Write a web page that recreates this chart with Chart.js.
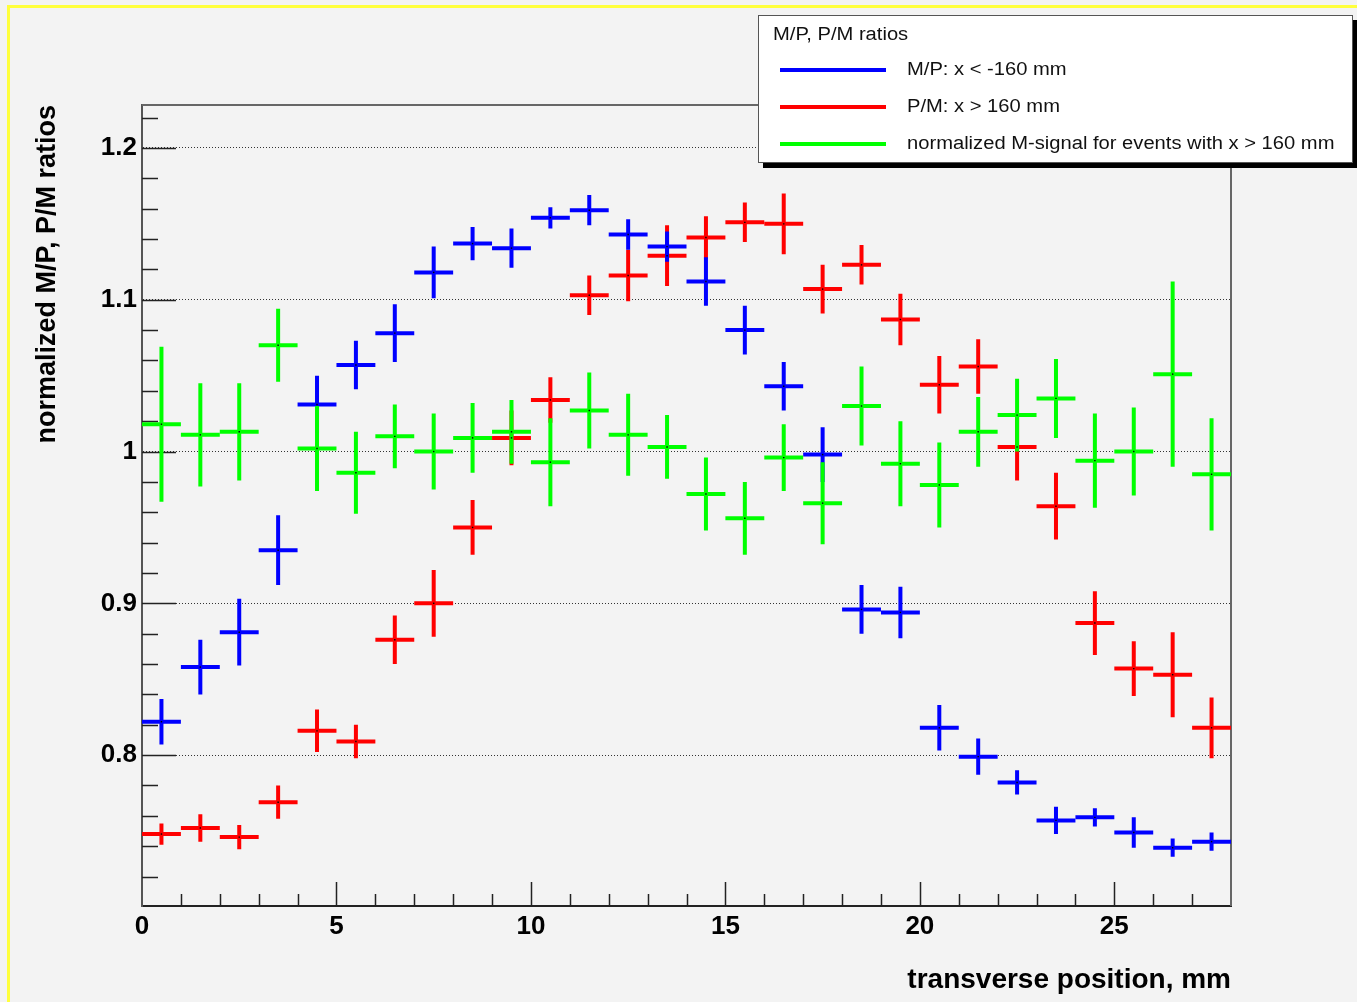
<!DOCTYPE html>
<html>
<head>
<meta charset="utf-8">
<script src="https://cdn.jsdelivr.net/npm/chart.js@4.4.1/dist/chart.umd.min.js"></script>
<style>
    body { margin: 0; background: #f3f3f3; overflow: hidden; }
    #wrap { position: relative; width: 1357px; height: 1002px; }
    #frame { position: absolute; left: 7px; top: 5px; width: 1400px; height: 1100px;
        border-top: 3px solid #ffff3c; border-left: 3px solid #ffff3c; pointer-events: none; }
    #legend { position: absolute; left: 758px; top: 15px; width: 593px; height: 146px;
        background: #fff; border: 1px solid #555; box-shadow: 5px 5px 0 #000;
        font-family: 'Liberation Sans', Arial, sans-serif; font-size: 18px; color: #111; }
    #legend .title { position: absolute; left: 14px; top: 8px; transform: scaleX(1.12); transform-origin: left center; }
    #legend .row { position: absolute; left: 0; height: 24px; width: 100%; }
    #legend .row span.ln { position: absolute; left: 21px; top: 10px; width: 106px; height: 4px; }
    #legend .row span.tx { position: absolute; left: 148px; top: 1px; white-space: nowrap;
        transform: scaleX(1.12); transform-origin: left center; }
</style>
</head>
<body>
<div id="wrap">
    <canvas id="chRatio" width="1357" height="1002"></canvas>
    <div id="frame"></div>
    <div id="legend">
        <div class="title">M/P, P/M ratios</div>
        <div class="row" style="top:42px"><span class="ln" style="background:#0000ff"></span><span class="tx">M/P: x &lt; -160 mm</span></div>
        <div class="row" style="top:79px"><span class="ln" style="background:#ff0000"></span><span class="tx">P/M: x &gt; 160 mm</span></div>
        <div class="row" style="top:116px"><span class="ln" style="background:#00ff00"></span><span class="tx">normalized M-signal for events with x &gt; 160 mm</span></div>
    </div>
</div>
<script>
// bin centres, mm (bins are 1 mm wide)
let binCenters = [0.5, 1.5, 2.5, 3.5, 4.5, 5.5, 6.5, 7.5, 8.5, 9.5, 10.5, 11.5, 12.5, 13.5,
    14.5, 15.5, 16.5, 17.5, 18.5, 19.5, 20.5, 21.5, 22.5, 23.5, 24.5, 25.5, 26.5, 27.5];
let binHalfWidth = 0.5;

// M/P: x < -160 mm
let mpValues = [0.822, 0.858, 0.881, 0.935, 1.031, 1.057, 1.078, 1.118, 1.137, 1.134, 1.154, 1.159, 1.143, 1.135,
    1.112, 1.080, 1.043, 0.998, 0.896, 0.894, 0.818, 0.799, 0.782, 0.757, 0.759, 0.749, 0.739, 0.743];
let mpErrors = [0.015, 0.018, 0.022, 0.023, 0.019, 0.016, 0.019, 0.017, 0.011, 0.013, 0.007, 0.010, 0.010, 0.010,
    0.016, 0.016, 0.016, 0.018, 0.016, 0.017, 0.015, 0.012, 0.008, 0.009, 0.006, 0.010, 0.006, 0.006];

// P/M: x > 160 mm
let pmValues = [0.748, 0.752, 0.746, 0.769, 0.816, 0.809, 0.876, 0.900, 0.950, 1.009, 1.034, 1.103, 1.116, 1.129,
    1.141, 1.151, 1.150, 1.107, 1.123, 1.087, 1.044, 1.056, 1.003, 0.964, 0.887, 0.857, 0.853, 0.818];
let pmErrors = [0.007, 0.009, 0.008, 0.011, 0.014, 0.011, 0.016, 0.022, 0.018, 0.018, 0.015, 0.013, 0.017, 0.020,
    0.014, 0.013, 0.020, 0.016, 0.013, 0.017, 0.019, 0.018, 0.022, 0.022, 0.021, 0.018, 0.028, 0.020];

// normalized M-signal for events with x > 160 mm
let msValues = [1.018, 1.011, 1.013, 1.070, 1.002, 0.986, 1.010, 1.000, 1.009, 1.013, 0.993, 1.027, 1.011, 1.003,
    0.972, 0.956, 0.996, 0.966, 1.030, 0.992, 0.978, 1.013, 1.024, 1.035, 0.994, 1.000, 1.051, 0.985];
let msErrors = [0.051, 0.034, 0.032, 0.024, 0.028, 0.027, 0.021, 0.025, 0.023, 0.021, 0.029, 0.025, 0.027, 0.021,
    0.024, 0.024, 0.022, 0.027, 0.026, 0.028, 0.028, 0.023, 0.024, 0.026, 0.031, 0.029, 0.061, 0.037];

let xMajorTicks = [0, 5, 10, 15, 20, 25];
let yMajorTicks = [0.8, 0.9, 1.0, 1.1, 1.2];

function points(values) {
    let pts = [];
    for (let i = 0; i < values.length; i++) {
        pts.push({ x: binCenters[i], y: values[i] });
    }
    return pts;
}

// error crosses: horizontal = bin width, vertical = error
const errorCross = {
    id: 'errorCross',
    beforeDatasetsDraw(chart) {
        const { ctx, chartArea: a, scales: { x, y } } = chart;
        ctx.save();
        ctx.beginPath();
        ctx.rect(a.left, a.top, a.right - a.left, a.bottom - a.top);
        ctx.clip();
        // red first, then blue, green on top
        [1, 0, 2].forEach(k => {
            let ds = chart.data.datasets[k];
            ctx.strokeStyle = ds.crossColor;
            ctx.lineWidth = 4;
            ds.data.forEach((p, j) => {
                let e = ds.errors[j];
                let px = x.getPixelForValue(p.x);
                let py = y.getPixelForValue(p.y);
                ctx.beginPath();
                ctx.moveTo(x.getPixelForValue(p.x - binHalfWidth), py);
                ctx.lineTo(x.getPixelForValue(p.x + binHalfWidth), py);
                ctx.moveTo(px, y.getPixelForValue(p.y + e));
                ctx.lineTo(px, y.getPixelForValue(p.y - e));
                ctx.stroke();
            });
        });
        ctx.restore();
    }
};

// ROOT style ticks pointing into the frame, plus the top/right frame
const innerTicks = {
    id: 'innerTicks',
    beforeDatasetsDraw(chart) {
        const { ctx, chartArea: a, scales: { x, y } } = chart;
        ctx.save();
        ctx.strokeStyle = '#222';
        ctx.lineWidth = 1.5;
        ctx.beginPath();
        for (let k = 36; k <= 61; k++) {
            let py = Math.round(y.getPixelForValue(k * 0.02)) + 0.5;
            let len = (k % 5 == 0) ? 34 : 16;
            ctx.moveTo(a.left, py);
            ctx.lineTo(a.left + len, py);
        }
        for (let k = 1; k < 28; k++) {
            let px = Math.round(x.getPixelForValue(k)) + 0.5;
            let len = (k % 5 == 0) ? 24 : 12;
            ctx.moveTo(px, a.bottom);
            ctx.lineTo(px, a.bottom - len);
        }
        ctx.stroke();
        ctx.strokeStyle = '#666';
        ctx.lineWidth = 2;
        ctx.beginPath();
        ctx.moveTo(a.left, a.top);
        ctx.lineTo(a.right, a.top);
        ctx.lineTo(a.right, a.bottom);
        ctx.stroke();
        ctx.restore();
    }
};

const tickFont = { family: "'Liberation Sans', Arial, sans-serif", size: 26, weight: 'bold' };

new Chart(document.getElementById('chRatio'), {
    type: 'scatter',
    data: {
        datasets: [
            { label: 'M/P: x < -160 mm', data: points(mpValues), errors: mpErrors, crossColor: '#0000ff' },
            { label: 'P/M: x > 160 mm', data: points(pmValues), errors: pmErrors, crossColor: '#ff0000' },
            { label: 'normalized M-signal for events with x > 160 mm', data: points(msValues), errors: msErrors, crossColor: '#00ff00' }
        ]
    },
    options: {
        responsive: false,
        animation: false,
        layout: { padding: { top: 105, right: 126, bottom: 0, left: 0 } },
        elements: { point: { radius: 1, backgroundColor: '#000', borderWidth: 0, pointStyle: 'rect' } },
        plugins: {
            legend: { display: false },
            tooltip: { enabled: false }
        },
        scales: {
            x: {
                type: 'linear',
                min: 0,
                max: 28,
                afterFit: (s) => { s.height = 96; },
                afterBuildTicks: (s) => { s.ticks = xMajorTicks.map(v => ({ value: v })); },
                ticks: { font: tickFont, color: '#000', padding: 5, maxRotation: 0 },
                grid: { display: false, drawTicks: false },
                border: { display: true, color: '#222', width: 2 },
                title: {
                    display: true, text: 'transverse position, mm', align: 'end',
                    font: { family: "'Liberation Sans', Arial, sans-serif", size: 28, weight: 'bold' },
                    color: '#000', padding: { top: 0, bottom: 5 }
                }
            },
            y: {
                type: 'linear',
                min: 0.7006,
                max: 1.2283,
                afterFit: (s) => { s.width = 142; },
                afterBuildTicks: (s) => { s.ticks = yMajorTicks.map(v => ({ value: v })); },
                ticks: { font: tickFont, color: '#000', padding: 5, callback: (v) => +v.toFixed(1) },
                grid: { color: '#333', drawTicks: false, lineWidth: 1 },
                border: { display: true, color: '#555', width: 2, dash: [1, 2] },
                title: {
                    display: true, text: 'normalized M/P, P/M ratios', align: 'end',
                    font: { family: "'Liberation Sans', Arial, sans-serif", size: 27, weight: 'bold' },
                    color: '#000', padding: { top: 31, bottom: 0 }
                }
            }
        }
    },
    plugins: [innerTicks, errorCross]
});
</script>
</body>
</html>
